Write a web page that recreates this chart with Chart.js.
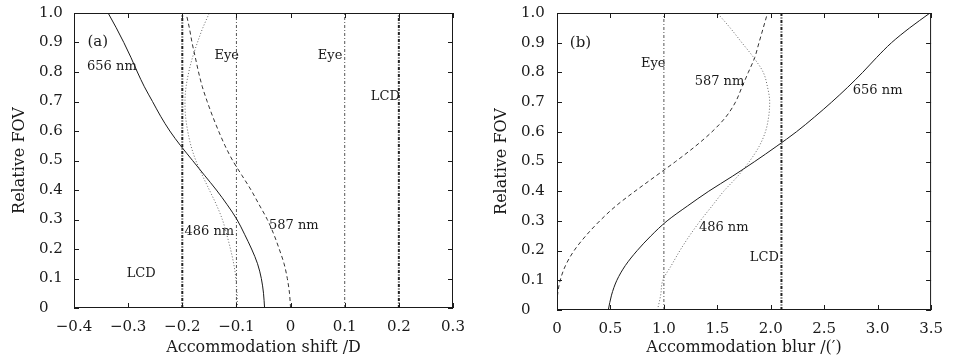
<!DOCTYPE html>
<html>
<head>
  <meta charset="UTF-8" />
  <title>Accommodation shift / blur</title>
  <script src="https://cdn.jsdelivr.net/npm/chart.js"></script>
  <style>
    html, body { margin: 0; padding: 0; background: #fff; }
    #wrap { position: relative; width: 953px; height: 359px; }
    .panel { position: absolute; top: 0; height: 359px; }
    #left { left: 0; width: 476px; }
    #right { left: 476px; width: 477px; }
  </style>
</head>
<body>
  <div id="wrap">
    <div class="panel" id="left"><canvas id="chartA" width="476" height="359"></canvas></div>
    <div class="panel" id="right"><canvas id="chartB" width="477" height="359"></canvas></div>
  </div>

  <script>
    // relative field of view (shared y values)
    const fov = [0, 0.05, 0.1, 0.15, 0.2, 0.25, 0.3, 0.35, 0.4, 0.45, 0.5,
                 0.55, 0.6, 0.65, 0.7, 0.75, 0.8, 0.85, 0.9, 0.95, 1.0];
    const fovTicks = [0, 0.1, 0.2, 0.3, 0.4, 0.5, 0.6, 0.7, 0.8, 0.9, 1.0];

    // (a) accommodation shift / D
    const shift656 = [-0.048, -0.050, -0.054, -0.061, -0.072, -0.085, -0.099, -0.117, -0.137, -0.159, -0.181,
                      -0.203, -0.223, -0.240, -0.255, -0.270, -0.283, -0.295, -0.308, -0.322, -0.337];
    const shift587 = [0, -0.002, -0.006, -0.012, -0.021, -0.031, -0.043, -0.058, -0.073, -0.090, -0.107,
                      -0.121, -0.133, -0.144, -0.154, -0.163, -0.170, -0.176, -0.182, -0.187, -0.193];
    const shift486 = [-0.098, -0.099, -0.101, -0.105, -0.111, -0.118, -0.126, -0.137, -0.150, -0.163, -0.175,
                      -0.184, -0.190, -0.194, -0.195, -0.193, -0.188, -0.181, -0.172, -0.162, -0.150];
    const shiftEye = [-0.1, 0.1];
    const shiftLCD = [-0.2, 0.2];
    const shiftTicks = [-0.4, -0.3, -0.2, -0.1, 0, 0.1, 0.2, 0.3];

    // (b) accommodation blur /(')
    const blur656 = [0.48, 0.51, 0.56, 0.64, 0.75, 0.88, 1.03, 1.22, 1.42, 1.64, 1.85,
                     2.05, 2.24, 2.41, 2.57, 2.72, 2.86, 2.99, 3.13, 3.30, 3.49];
    const blur587 = [0, 0.005, 0.03, 0.08, 0.16, 0.27, 0.40, 0.55, 0.73, 0.92, 1.11,
                     1.29, 1.45, 1.58, 1.67, 1.73, 1.79, 1.85, 1.89, 1.93, 1.97];
    const blur486 = [0.94, 0.97, 0.99, 1.07, 1.15, 1.24, 1.34, 1.45, 1.56, 1.69, 1.80,
                     1.89, 1.95, 1.98, 1.99, 1.97, 1.93, 1.84, 1.73, 1.62, 1.50];
    const blurEye = [1.0];
    const blurLCD = [2.1];
    const blurTicks = [0, 0.5, 1.0, 1.5, 2.0, 2.5, 3.0, 3.5];

    const SERIF = '"DejaVu Serif", "Liberation Serif", serif';
    const INK = '#1a1a1a';

    function fmt(v) {
      if (Math.abs(v) < 1e-9) return '0';
      return (v < 0 ? '\u2212' : '') + Math.abs(v).toFixed(1);
    }

    // curves are x = f(FOV), so interpolate monotonically along y
    function curve(xs, style) {
      return Object.assign({
        data: fov.map((f, i) => ({ x: xs[i], y: f })),
        indexAxis: 'y', cubicInterpolationMode: 'monotone',
        showLine: true, pointRadius: 0, borderWidth: 1, fill: false
      }, style);
    }
    function vlines(xs, style) {
      return xs.map(v => Object.assign({
        data: [{ x: v, y: 0 }, { x: v, y: 1 }],
        showLine: true, pointRadius: 0, fill: false
      }, style));
    }

    const solid = { borderColor: INK };
    const dashed = { borderColor: '#333', borderDash: [4, 3] };
    const dotted = { borderColor: '#666', borderDash: [1, 2] };
    const eyeStyle = { borderColor: '#555', borderWidth: 1, borderDash: [3, 2, 1, 2] };
    const lcdStyle = { borderColor: '#222', borderWidth: 2, borderDash: [3, 1.5, 1, 1.5] };

    // frame, inward ticks and text annotations
    const framePlugin = {
      id: 'frame',
      afterDatasetsDraw(chart, args, opts) {
        const { ctx, chartArea: a, scales: { x, y } } = chart;
        ctx.save();
        ctx.strokeStyle = INK;
        ctx.lineWidth = 1;
        ctx.setLineDash([]);
        ctx.strokeRect(a.left + 0.5, a.top + 0.5, a.width - 1, a.height - 1);
        ctx.beginPath();
        x.ticks.forEach(t => {
          const px = Math.round(x.getPixelForValue(t.value)) + 0.5;
          ctx.moveTo(px, a.bottom); ctx.lineTo(px, a.bottom - 5);
          ctx.moveTo(px, a.top); ctx.lineTo(px, a.top + 5);
        });
        y.ticks.forEach(t => {
          const py = Math.round(y.getPixelForValue(t.value)) + 0.5;
          ctx.moveTo(a.left, py); ctx.lineTo(a.left + 5, py);
          ctx.moveTo(a.right, py); ctx.lineTo(a.right - 5, py);
        });
        ctx.stroke();
        ctx.fillStyle = INK;
        ctx.textAlign = 'center';
        ctx.textBaseline = 'middle';
        (opts.labels || []).forEach(l => {
          ctx.font = (l.size || 13) + 'px ' + SERIF;
          ctx.fillText(l.text, x.getPixelForValue(l.x), y.getPixelForValue(l.y));
        });
        ctx.restore();
      }
    };

    function makeOptions(cfg) {
      return {
        responsive: false,
        animation: false,
        layout: { padding: { top: 13, right: cfg.padRight, left: cfg.padLeft, bottom: 0 } },
        plugins: {
          legend: { display: false },
          tooltip: { enabled: false },
          frame: { labels: cfg.labels }
        },
        scales: {
          x: {
            type: 'linear', min: cfg.xMin, max: cfg.xMax,
            afterBuildTicks: s => { s.ticks = cfg.xTicks.map(v => ({ value: v })); },
            afterFit: s => { s.height = cfg.xHeight; },
            grid: { display: false, drawTicks: false },
            border: { display: false },
            ticks: { font: { family: SERIF, size: 15 }, color: INK, padding: 10,
                     maxRotation: 0, autoSkip: false, callback: v => fmt(v) },
            title: { display: true, text: cfg.xTitle, color: INK,
                     font: { family: SERIF, size: 16 }, padding: { top: 0, bottom: 2 } }
          },
          y: {
            type: 'linear', min: 0, max: 1,
            afterBuildTicks: s => { s.ticks = fovTicks.map(v => ({ value: v })); },
            afterFit: s => { s.width = cfg.yWidth; },
            grid: { display: false, drawTicks: false },
            border: { display: false },
            ticks: { font: { family: SERIF, size: 15 }, color: INK, crossAlign: 'far',
                     autoSkip: false, callback: v => fmt(v) },
            title: { display: true, text: 'Relative FOV', color: INK,
                     font: { family: SERIF, size: 16 }, padding: { top: cfg.yTitlePad, bottom: 0 } }
          }
        }
      };
    }

    new Chart(document.getElementById('chartA'), {
      type: 'scatter',
      data: {
        datasets: [
          curve(shift656, solid),
          curve(shift587, dashed),
          curve(shift486, dotted),
          ...vlines(shiftEye, eyeStyle),
          ...vlines(shiftLCD, lcdStyle)
        ]
      },
      options: makeOptions({
        xMin: -0.4, xMax: 0.3, xTicks: shiftTicks,
        xTitle: 'Accommodation shift /D',
        padLeft: 39, padRight: 23, yWidth: 35, xHeight: 51, yTitlePad: -29,
        labels: [
          { text: '(a)', x: -0.356, y: 0.90, size: 15 },
          { text: '656 nm', x: -0.33, y: 0.817 },
          { text: 'Eye', x: -0.118, y: 0.854 },
          { text: 'Eye', x: 0.073, y: 0.854 },
          { text: 'LCD', x: 0.175, y: 0.715 },
          { text: '486 nm', x: -0.15, y: 0.26 },
          { text: '587 nm', x: 0.006, y: 0.278 },
          { text: 'LCD', x: -0.276, y: 0.115 }
        ]
      }),
      plugins: [framePlugin]
    });

    new Chart(document.getElementById('chartB'), {
      type: 'scatter',
      data: {
        datasets: [
          curve(blur656, solid),
          curve(blur587, dashed),
          curve(blur486, dotted),
          ...vlines(blurEye, eyeStyle),
          ...vlines(blurLCD, lcdStyle)
        ]
      },
      options: makeOptions({
        xMin: 0, xMax: 3.5, xTicks: blurTicks,
        xTitle: 'Accommodation blur /(\u2032)',
        padLeft: 45, padRight: 15, yWidth: 36, xHeight: 49, yTitlePad: -29,
        labels: [
          { text: '(b)', x: 0.22, y: 0.90, size: 15 },
          { text: 'Eye', x: 0.90, y: 0.83 },
          { text: '587 nm', x: 1.52, y: 0.768 },
          { text: '656 nm', x: 3.0, y: 0.737 },
          { text: '486 nm', x: 1.56, y: 0.276 },
          { text: 'LCD', x: 1.94, y: 0.175 }
        ]
      }),
      plugins: [framePlugin]
    });
  </script>
</body>
</html>
